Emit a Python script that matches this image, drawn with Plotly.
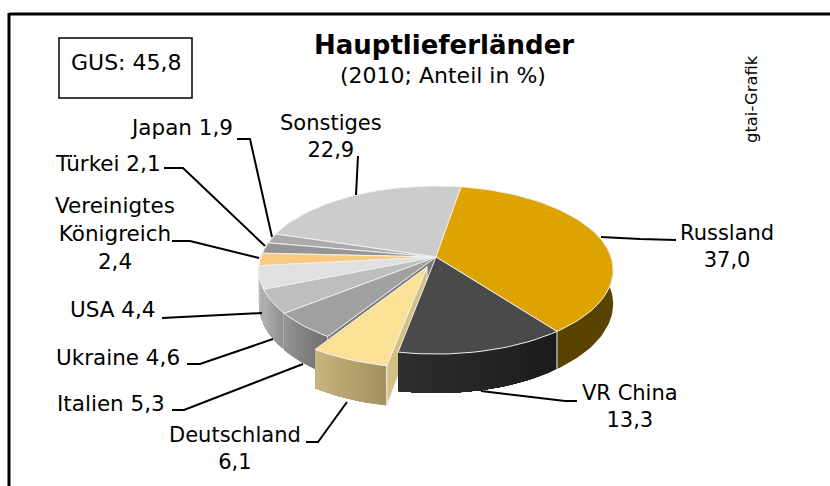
import math
import plotly.graph_objects as go

# ---- data ----
countries = ["Russland", "VR China", "Deutschland", "Italien", "Ukraine", "USA",
             "Vereinigtes Königreich", "Türkei", "Japan", "Sonstiges"]
shares = [37.0, 13.3, 6.1, 5.3, 4.6, 4.4, 2.4, 2.1, 1.9, 22.9]
top_colors = ["#DDA400", "#4A4A4A", "#FBE196", "#A0A0A0", "#BEBEBE", "#E0E0E0",
              "#F8CB80", "#959595", "#ABABAB", "#CCCCCC"]
side_left = ["#5A4200", "#2E2E2E", "#C9B57E", "#959595", "#B4B4B4", "#C8C8C8",
             "#D0A860", "#808080", "#909090", "#AAAAAA"]
side_right = ["#5A4200", "#1B1B1B", "#A4905E", "#6F6F6F", "#8F8F8F", "#A8A8A8",
              "#B08C50", "#707070", "#808080", "#999999"]

# ---- pie projection ----
CX, CY, RX, RY, K, DEPTH, START = 436, 257, 175, 82, 0.155, 33, 9.5
EXPLODED = {2: (-0.05, -0.117)}


def project(theta_deg, radius=1.0, off=(0, 0), lower=False):
    t = math.radians(theta_deg)
    u = radius * math.sin(t) + off[0]
    v = radius * math.cos(t) + off[1]
    w = 1 + K * v
    x = CX + RX * u / w
    y = CY - RY * v / w
    if lower:
        y += DEPTH / w
    return x, y


def poly(fig, pts, fill, line="rgba(0,0,0,0)", width=0):
    xs = [p[0] for p in pts] + [pts[0][0]]
    ys = [p[1] for p in pts] + [pts[0][1]]
    fig.add_trace(go.Scatter(x=xs, y=ys, mode="lines", fill="toself", fillcolor=fill,
                             line=dict(color=line, width=width), hoverinfo="skip",
                             showlegend=False))


def mix(c1, c2, f):
    a = [int(c1[i:i + 2], 16) for i in (1, 3, 5)]
    b = [int(c2[i:i + 2], 16) for i in (1, 3, 5)]
    return "#%02X%02X%02X" % tuple(round(p + (q - p) * f) for p, q in zip(a, b))


fig = go.Figure()

# slice angle ranges, clockwise from the start angle
angles = []
acc = START
for s in shares:
    angles.append((acc, acc + s * 3.6))
    acc += s * 3.6


def side_band(t0, t1, off, col):
    n = max(2, int((t1 - t0) / 1.5))
    arc = [t0 + (t1 - t0) * j / n for j in range(n + 1)]
    pts = [project(t, off=off) for t in arc] + [project(t, off=off, lower=True) for t in reversed(arc)]
    poly(fig, pts, col)


def draw_side(i, off=(0, 0)):
    a0, a1 = angles[i]
    # only the part of the rim that faces the viewer
    lo, hi = max(a0, 70), min(a1, 300)
    if hi <= lo:
        return
    if side_left[i] == side_right[i]:
        side_band(lo, hi, off, side_left[i])
    else:
        n = max(2, int((hi - lo) / 1.5))
        # each band reaches to the slice's end, so that no seam shows between bands
        for j in range(n):
            t0 = lo + (hi - lo) * j / n
            side_band(t0, hi, off, mix(side_right[i], side_left[i], (j + 0.5) / n))
    if 90 < a0 < 290:
        sx, sy = zip(project(a0, off=off), project(a0, off=off, lower=True))
        fig.add_trace(go.Scatter(x=sx, y=sy, mode="lines", hoverinfo="skip", showlegend=False,
                                 line=dict(color="#EDEDED", width=1)))


def wedge(i, off=(0, 0)):
    a0, a1 = angles[i]
    n = max(3, int((a1 - a0) / 2))
    pts = [project(0, radius=0, off=off)]
    pts += [project(a0 + (a1 - a0) * j / n, off=off) for j in range(n + 1)]
    poly(fig, pts, top_colors[i], "#F0F0F0", 1)


# body sides (the exploded slice and its neighbour come later)
for i in [0, 9, 8, 7, 6, 5, 4, 3]:
    draw_side(i)

# radial wall of the main body, seen through the gap of the exploded slice
wall_t = angles[3][0]
poly(fig, [project(0, radius=0), project(wall_t), project(wall_t, lower=True),
           project(0, radius=0, lower=True)], "#7A7A7A")

# top faces of the body
for i in [9, 8, 7, 6, 5, 4, 3, 0]:
    wedge(i)

# exploded slice's radial wall, then the neighbour in front of it
off = EXPLODED[2]
a0, a1 = angles[2]
poly(fig, [project(0, radius=0, off=off), project(a0, off=off), project(a0, off=off, lower=True),
           project(0, radius=0, off=off, lower=True)], "#D4C083", "#F0F0F0", 1)
draw_side(1)
wedge(1)
draw_side(2, off=off)
wedge(2, off=off)

# ---- leader lines (page pixels) ----
leaders = [
    [(601, 237), (640, 239), (676, 240)],
    [(481, 391), (565, 401), (577, 401)],
    [(347, 402), (318, 442), (306, 442)],
    [(303, 364), (184, 410), (172, 410)],
    [(273, 339), (200, 364), (187, 364)],
    [(262, 313), (175, 318), (162, 318)],
    [(259, 258), (190, 241), (172, 241)],
    [(265, 246), (183, 168), (164, 168)],
    [(272, 237), (250, 139), (237, 139)],
    [(356, 195), (358, 156)],
]
for seg in leaders:
    fig.add_trace(go.Scatter(x=[p[0] for p in seg], y=[p[1] for p in seg], mode="lines",
                             line=dict(color="black", width=2), hoverinfo="skip", showlegend=False))

# ---- labels ----
FONT = "DejaVu Sans"
labels = [
    (727, 246, "Russland<br>37,0", 21),
    (630, 406, "VR China<br>13,3", 21),
    (235, 448, "Deutschland<br>6,1", 21),
    (111, 403, "Italien 5,3", 21.5),
    (118, 357, "Ukraine 4,6", 21.5),
    (113, 309, "USA 4,4", 21.5),
    (115, 233, "Vereinigtes<br>Königreich<br>2,4", 21.5),
    (108, 163, "Türkei 2,1", 21.5),
    (181, 127, "Japan 1,9", 21.5),
    (331, 136, "Sonstiges<br>22,9", 21),
    (126, 62, "GUS: 45,8", 22),
    (443, 75, "(2010; Anteil in %)", 22),
]
annotations = [dict(x=x, y=y, text=t, xref="x", yref="y", showarrow=False, xanchor="center",
                    yanchor="middle", font=dict(family=FONT, size=s, color="black"))
               for x, y, t, s in labels]
annotations.append(dict(x=444, y=45, text="<b>Hauptlieferländer</b>", xref="x", yref="y",
                        showarrow=False, xanchor="center", yanchor="middle",
                        font=dict(family=FONT, size=26, color="black")))
annotations.append(dict(x=751, y=99, text="gtai-Grafik", textangle=-90, xref="x", yref="y",
                        showarrow=False, xanchor="center", yanchor="middle",
                        font=dict(family=FONT, size=16.4, color="black")))

shapes = [
    dict(type="rect", xref="x", yref="y", x0=59, y0=38, x1=192, y1=98,
         line=dict(color="black", width=1.5)),
    dict(type="line", xref="x", yref="y", x0=9, y0=14, x1=830, y1=14,
         line=dict(color="black", width=3)),
    dict(type="line", xref="x", yref="y", x0=9, y0=13, x1=9, y1=486,
         line=dict(color="black", width=3)),
]

fig.update_layout(
    width=830, height=486, margin=dict(l=0, r=0, t=0, b=0),
    paper_bgcolor="white", plot_bgcolor="white",
    xaxis=dict(range=[0, 830], visible=False, fixedrange=True),
    yaxis=dict(range=[486, 0], visible=False, fixedrange=True),
    annotations=annotations, shapes=shapes, showlegend=False,
)
fig.write_html("out.html", config=dict(displayModeBar=False),
               post_script="document.body.style.margin='0';document.documentElement.style.overflow='hidden';")
